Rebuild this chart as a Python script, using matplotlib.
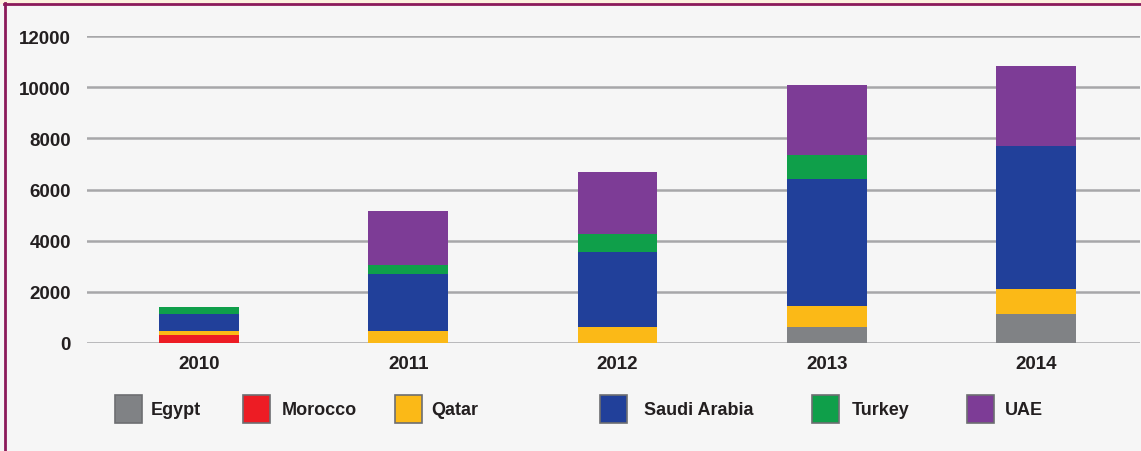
import matplotlib
matplotlib.use("Agg")
import matplotlib.pyplot as plt
from matplotlib.patches import Rectangle
from matplotlib.lines import Line2D
import numpy as np

years = ["2010", "2011", "2012", "2013", "2014"]
countries = ["Egypt", "Morocco", "Qatar", "Saudi Arabia", "Turkey", "UAE"]
egypt = [0, 0, 0, 630, 1150]
morocco = [300, 0, 0, 0, 0]
qatar = [150, 470, 625, 805, 975]
saudi = [680, 2230, 2920, 4975, 5590]
turkey = [290, 350, 715, 930, 0]
uae = [0, 2110, 2440, 2760, 3100]
yticks = [0, 2000, 4000, 6000, 8000, 10000, 12000]

colors = ["#808285", "#ed1c24", "#fbb917", "#21409a", "#0f9f4a", "#7d3c96"]
series = [egypt, morocco, qatar, saudi, turkey, uae]

W, H = 1141, 452
plt.rcParams['font.family'] = ['Liberation Sans', 'DejaVu Sans']
fig = plt.figure(figsize=(W / 100, H / 100), dpi=100)
fig.patch.set_facecolor("#f6f6f6")

def fx(px):
    return px / W

def fy(py):
    return 1 - py / H

ax = fig.add_axes([fx(87), fy(344), fx(1140) - fx(87), fy(37) - fy(344)])
ax.set_facecolor("#f6f6f6")
x = np.arange(len(years))
bottom = np.zeros(len(years))
for vals, c in zip(series, colors):
    v = np.array(vals, dtype=float)
    ax.bar(x, v, 0.38, bottom=bottom, color=c, edgecolor="none", zorder=3)
    bottom += v

ax.set_ylim(0, 12000)
ax.set_xlim(-0.534, 4.496)
ax.set_yticks(yticks)
ax.set_yticklabels([str(t) for t in yticks])
ax.set_xticks(x)
ax.set_xticklabels(years)
for s in ax.spines.values():
    s.set_visible(False)
ax.tick_params(axis="both", length=0, labelsize=13.5, labelcolor="#231f20")
ax.tick_params(axis="y", pad=11.5)
ax.tick_params(axis="x", pad=9)
for lab in ax.get_xticklabels() + ax.get_yticklabels():
    lab.set_fontweight("bold")
ax.yaxis.grid(True, color="#a7a7a9", linewidth=1.8, zorder=0)
ax.set_axisbelow(True)

# legend
sq_x = [115, 243, 395, 600, 812, 967]
txt_x = [151, 282, 431, 644, 852, 1005]
for name, c, sx, tx in zip(countries, colors, sq_x, txt_x):
    fig.add_artist(Rectangle((fx(sx), fy(424)), fx(27), fy(396) - fy(424),
                             transform=fig.transFigure, facecolor=c,
                             edgecolor="#6d6e71", linewidth=1.2))
    fig.text(fx(tx), fy(411), name, fontsize=13, fontweight="bold",
             color="#231f20", va="center", ha="left")

# frame
fig.add_artist(Rectangle((0, fy(4.5)), 1, 1 - fy(4.5), transform=fig.transFigure,
                         facecolor="#fdf1df", edgecolor="none"))
fig.add_artist(Line2D([fx(4), 1], [fy(5.3), fy(5.3)], transform=fig.transFigure,
                      color="#8b1a5a", linewidth=2))
fig.add_artist(Line2D([fx(5.3), fx(5.3)], [0, fy(4)], transform=fig.transFigure,
                      color="#8b1a5a", linewidth=2))

fig.savefig("out.png", dpi=100, facecolor=fig.get_facecolor())
